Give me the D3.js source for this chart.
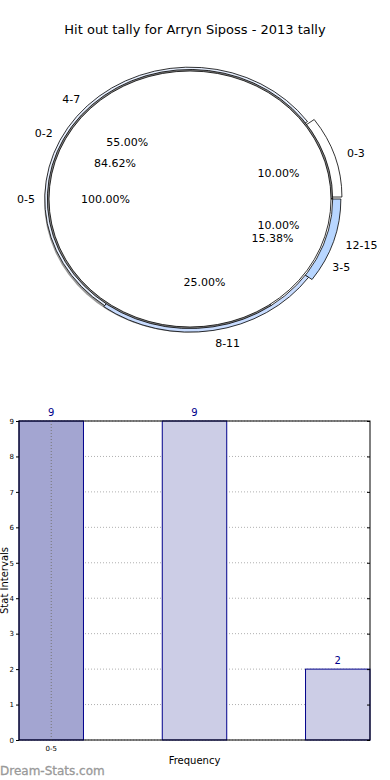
<!DOCTYPE html>
<html>
<head>
<meta charset="utf-8">
<script src="https://cdn.jsdelivr.net/npm/d3@7"></script>
<style>
  body { margin: 0; background: #fff; }
  svg { display: block; font-family: "DejaVu Sans", sans-serif; }
</style>
</head>
<body>
<svg id="chart" width="390" height="780"></svg>
<script>
// pie rings (innermost first)
const innerLabels = ["0-5"];
const innerValues = [100];
const midLabels = ["0-2", "3-5"];
const midValues = [84.62, 15.38];
const outerLabels = ["0-3", "4-7", "8-11", "12-15"];
const outerValues = [10, 55, 25, 10];

// bar chart
const barLabels = ["0-5", "", ""];
const barValues = [9, 9, 2];
const yTicks = [0, 1, 2, 3, 4, 5, 6, 7, 8, 9];

const svg = d3.select("#chart");

svg.append("text")
  .attr("x", 195).attr("y", 34)
  .attr("text-anchor", "middle")
  .attr("font-size", 13)
  .text("Hit out tally for Arryn Siposs - 2013 tally");

// ---- pie part ----
const cx = 190, cy = 199, rx = 141, ry = 128;
const R = 100;

// matplotlib style: start at 3 o'clock, counterclockwise
const pie = d3.pie().sort(null).startAngle(Math.PI / 2).endAngle(Math.PI / 2 - 2 * Math.PI);

function drawRing(labels, values, opts) {
  const arcs = pie(values);
  const g = svg.append("g");
  arcs.forEach((a, i) => {
    const k = opts.radius[i];
    const mid = (a.startAngle + a.endAngle) / 2;
    const ex = opts.explode ? opts.explode[i] : 0;
    const dx = rx * ex * Math.sin(mid), dy = -ry * ex * Math.cos(mid);
    const arc = d3.arc().innerRadius(0).outerRadius(R * k);
    g.append("path")
      .attr("d", arc(a))
      .attr("transform", `translate(${cx + dx},${cy + dy}) scale(${rx / R},${ry / R})`)
      .attr("fill", opts.fill[i])
      .attr("stroke", opts.stroke || "#000")
      .attr("stroke-width", 0.8)
      .attr("vector-effect", "non-scaling-stroke")
      .attr("stroke-linejoin", "miter");
  });
  return arcs;
}

function labelRing(labels, values, arcs, opts) {
  arcs.forEach((a, i) => {
    const mid = (a.startAngle + a.endAngle) / 2;
    const s = Math.sin(mid), c = Math.cos(mid);
    const lk = opts.labelDist[i];
    svg.append("text")
      .attr("x", cx + rx * lk * s)
      .attr("y", cy - ry * lk * c)
      .attr("dy", "0.35em")
      .attr("text-anchor", s >= 0 ? "start" : "end")
      .attr("font-size", 11)
      .text(labels[i]);
    const pk = opts.pctDist[i];
    svg.append("text")
      .attr("x", cx + rx * pk * s)
      .attr("y", cy - ry * pk * c)
      .attr("dy", "0.35em")
      .attr("text-anchor", "middle")
      .attr("font-size", 11)
      .text(d3.format(".2f")(values[i] / d3.sum(values) * 100) + "%");
  });
}

// shadow under the rings
svg.append("ellipse")
  .attr("cx", cx - 2).attr("cy", cy + 3)
  .attr("rx", rx * 1.02).attr("ry", ry * 1.02)
  .attr("fill", "#9a9a9a");

const outerArcs = drawRing(outerLabels, outerValues, {
  radius: [1.03, 1.03, 1.04, 1.07],
  explode: [0.05, 0, 0, 0],
  fill: ["#ffffff", "#e8f0ff", "#c8dcff", "#b8d6ff"]
});
const midArcs = drawRing(midLabels, midValues, {
  radius: [1.012, 1.012],
  fill: ["#8c8c8c", "#ffffff"]
});
const innerArcs = drawRing(innerLabels, innerValues, {
  radius: [1.0],
  fill: ["#ffffff"]
});

labelRing(outerLabels, outerValues, outerArcs, {
  labelDist: [1.17, 1.1, 1.14, 1.16],
  pctDist: [0.66, 0.63, 0.66, 0.66]
});
labelRing(midLabels, midValues, midArcs, {
  labelDist: [1.1, 1.14],
  pctDist: [0.6, 0.66]
});
labelRing(innerLabels, innerValues, innerArcs, {
  labelDist: [1.1],
  pctDist: [0.6]
});

// ---- bar part ----
const plotLeft = 19, plotRight = 370, plotTop = 421, plotBottom = 740;
const x = d3.scaleLinear().domain([-0.225, barValues.length - 1 + 0.225]).range([plotLeft, plotRight]);
const y = d3.scaleLinear().domain([0, 9]).range([plotBottom, plotTop]);
const bw = x(0.45) - x(0);

const grid = svg.append("g");
yTicks.forEach(t => {
  grid.append("line")
    .attr("x1", plotLeft).attr("x2", plotRight)
    .attr("y1", y(t)).attr("y2", y(t))
    .attr("stroke", "#b0b0b0").attr("stroke-width", 1)
    .attr("stroke-dasharray", "1,2");
});

const bars = svg.append("g");
barValues.forEach((v, i) => {
  bars.append("rect")
    .attr("x", x(i) - bw / 2)
    .attr("y", y(v))
    .attr("width", bw)
    .attr("height", y(0) - y(v))
    .attr("fill", i === 0 ? "#a3a5d1" : "#cccde6")
    .attr("stroke", "#00008b")
    .attr("stroke-width", 1);
  svg.append("text")
    .attr("x", x(i)).attr("y", y(v) - 5)
    .attr("text-anchor", "middle")
    .attr("font-size", 10)
    .attr("fill", "#00008b")
    .text(v);
});

// vertical grid at the labelled tick
barLabels.forEach((l, i) => {
  if (!l) return;
  svg.append("line")
    .attr("x1", x(i)).attr("x2", x(i))
    .attr("y1", plotTop).attr("y2", plotBottom)
    .attr("stroke", "#777").attr("stroke-width", 1)
    .attr("stroke-dasharray", "1,2");
  svg.append("text")
    .attr("x", x(i)).attr("y", plotBottom + 11)
    .attr("text-anchor", "middle")
    .attr("font-size", 7)
    .text(l);
});

svg.append("rect")
  .attr("x", plotLeft).attr("y", plotTop)
  .attr("width", plotRight - plotLeft).attr("height", plotBottom - plotTop)
  .attr("fill", "none").attr("stroke", "#000").attr("stroke-width", 1);

const yAxis = d3.axisLeft(y).tickValues(yTicks).tickSize(3).tickPadding(2).tickFormat(d3.format("d"));
const ya = svg.append("g").attr("transform", `translate(${plotLeft},0)`).call(yAxis);
ya.select(".domain").remove();
ya.selectAll("text").attr("font-size", 7).attr("font-family", "DejaVu Sans");
svg.append("g").attr("transform", `translate(${plotRight},0)`)
  .call(d3.axisLeft(y).tickValues(yTicks).tickSize(3).tickFormat(""))
  .select(".domain").remove();

svg.append("text")
  .attr("transform", `translate(8,${(plotTop + plotBottom) / 2}) rotate(-90)`)
  .attr("text-anchor", "middle")
  .attr("font-size", 10)
  .text("Stat Intervals");

svg.append("text")
  .attr("x", (plotLeft + plotRight) / 2).attr("y", 764)
  .attr("text-anchor", "middle")
  .attr("font-size", 10)
  .text("Frequency");

svg.append("text")
  .attr("x", 0).attr("y", 775)
  .attr("font-size", 12)
  .attr("fill", "#999")
  .attr("stroke", "#999").attr("stroke-width", 0.3)
  .text("Dream-Stats.com");
</script>
</body>
</html>
